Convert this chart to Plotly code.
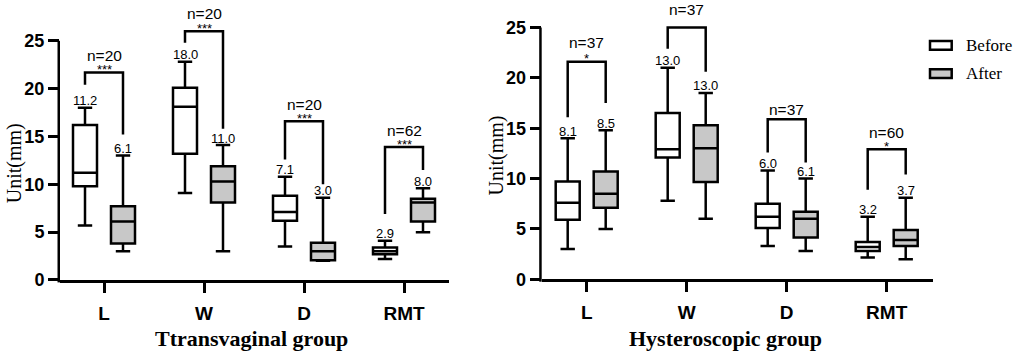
import plotly.graph_objects as go

# ---------------- data ----------------
categories = ["L", "W", "D", "RMT"]
y_ticks = [0, 5, 10, 15, 20, 25]
series_names = ["Before", "After"]

# Ttransvaginal group
tv_before_low = [5.7, 9.1, 3.5, 2.2]
tv_before_q1 = [9.8, 13.2, 6.2, 2.7]
tv_before_med = [11.2, 18.1, 7.1, 3.0]
tv_before_q3 = [16.2, 20.1, 8.8, 3.4]
tv_before_high = [18.0, 22.8, 10.8, 4.1]
tv_after_low = [3.0, 3.0, 2.0, 5.0]
tv_after_q1 = [3.8, 8.1, 2.05, 6.1]
tv_after_med = [6.1, 10.3, 3.0, 8.1]
tv_after_q3 = [7.7, 11.9, 3.9, 8.5]
tv_after_high = [13.0, 14.1, 8.6, 9.6]
tv_label_before = [11.2, 18.0, 7.1, 2.9]
tv_label_after = [6.1, 11.0, 3.0, 8.0]
tv_n = [20, 20, 20, 62]
tv_stars = ["***", "***", "***", "***"]
tv_bracket_top = [21.7, 26.0, 16.6, 13.9]
tv_bracket_left = [20.4, 24.8, 12.6, 6.9]
tv_bracket_right = [15.2, 15.8, 10.0, 11.5]

# Hysteroscopic group
hy_before_low = [3.0, 7.8, 3.3, 2.15]
hy_before_q1 = [5.9, 12.1, 5.1, 2.8]
hy_before_med = [7.6, 12.9, 6.2, 3.2]
hy_before_q3 = [9.7, 16.5, 7.5, 3.7]
hy_before_high = [14.0, 21.0, 10.8, 6.2]
hy_after_low = [5.0, 6.0, 2.8, 2.0]
hy_after_q1 = [7.1, 9.65, 4.15, 3.3]
hy_after_med = [8.5, 13.0, 6.0, 3.9]
hy_after_q3 = [10.7, 15.3, 6.7, 4.9]
hy_after_high = [14.8, 18.5, 10.0, 8.1]
hy_label_before = [8.1, 13.0, 6.0, 3.2]
hy_label_after = [8.5, 13.0, 6.1, 3.7]
hy_n = [37, 37, 37, 60]
hy_stars = ["*", "", "", "*"]
hy_bracket_top = [21.6, 25.0, 15.9, 12.9]
hy_bracket_left = [16.1, 22.9, 12.6, 8.9]
hy_bracket_right = [17.5, 20.6, 11.6, 10.4]

# ---------------- style / layout ----------------
W, H = 1013, 358
SANS = "Liberation Sans, Arial, sans-serif"
SERIF = "Liberation Serif, Times New Roman, serif"
FILLS = ["#ffffff", "#c8c8c8"]
LW = 2.5
OFF = 0.19
BOXW = 0.24

panels = [
    dict(ax="", title="Ttransvaginal group", title_px=251, ytitle_px=14, ytitle_py=168,
         px_x0=60, px_x1=449, px_zero=288, ppu=9.84, xr=[-0.44, 3.45], ymax=28,
         before=(tv_before_low, tv_before_q1, tv_before_med, tv_before_q3, tv_before_high),
         after=(tv_after_low, tv_after_q1, tv_after_med, tv_after_q3, tv_after_high),
         lab_b=tv_label_before, lab_a=tv_label_after, n=tv_n, stars=tv_stars,
         top=tv_bracket_top, left=tv_bracket_left, right=tv_bracket_right,
         ngap=[17, 18, 17, 17]),
    dict(ax="2", title="Hysteroscopic group", title_px=725, ytitle_px=497, ytitle_py=160,
         px_x0=541.7, px_x1=932.7, px_zero=287.3, ppu=10.36, xr=[-0.45, 3.46], ymax=27,
         before=(hy_before_low, hy_before_q1, hy_before_med, hy_before_q3, hy_before_high),
         after=(hy_after_low, hy_after_q1, hy_after_med, hy_after_q3, hy_after_high),
         lab_b=hy_label_before, lab_a=hy_label_after, n=hy_n, stars=hy_stars,
         top=hy_bracket_top, left=hy_bracket_left, right=hy_bracket_right,
         ngap=[19, 18, 10, 17]),
]

fig = go.Figure()
shapes, annotations = [], []
layout_axes = {}

for p in panels:
    xa, ya = "x" + p["ax"], "y" + p["ax"]
    xdom = [p["px_x0"] / W, p["px_x1"] / W]
    ydom = [(H - p["px_zero"]) / H, (H - (p["px_zero"] - p["ymax"] * p["ppu"])) / H]
    for k, (stats, fill, sign) in enumerate([(p["before"], FILLS[0], -1), (p["after"], FILLS[1], 1)]):
        low, q1, med, q3, high = stats
        fig.add_trace(go.Box(
            x=[i + sign * OFF for i in range(len(categories))],
            lowerfence=low, q1=q1, median=med, q3=q3, upperfence=high,
            width=BOXW, whiskerwidth=0.6, fillcolor=fill,
            line=dict(color="black", width=LW), boxpoints=False,
            name=series_names[k], showlegend=False, xaxis=xa, yaxis=ya,
        ))
        labels = p["lab_b"] if sign < 0 else p["lab_a"]
        for i, v in enumerate(labels):
            annotations.append(dict(x=i + sign * OFF, y=high[i], xref=xa, yref=ya,
                                    text=f"{v:.1f}", showarrow=False, yanchor="middle",
                                    yshift=7, font=dict(family=SANS, size=13, color="black")))
    for i in range(len(categories)):
        xl, xr_ = i - OFF, i + OFF
        shapes.append(dict(type="path", xref=xa, yref=ya,
                           path=f"M {xl},{p['left'][i]} L {xl},{p['top'][i]} L {xr_},{p['top'][i]} L {xr_},{p['right'][i]}",
                           line=dict(color="black", width=LW)))
        if p["stars"][i]:
            annotations.append(dict(x=i, y=p["top"][i], xref=xa, yref=ya, text=p["stars"][i],
                                    showarrow=False, yanchor="middle", yshift=3,
                                    font=dict(family=SANS, size=13, color="black")))
        annotations.append(dict(x=i, y=p["top"][i], xref=xa, yref=ya, text=f"n={p['n'][i]}",
                                showarrow=False, yanchor="middle", yshift=p["ngap"][i],
                                font=dict(family=SANS, size=15.5, color="black")))
    # y axis line only up to the top tick
    yline_top = ydom[0] + (max(y_ticks) / p["ymax"]) * (ydom[1] - ydom[0])
    xl_paper = xdom[0] - (LW / 2) / W
    shapes.append(dict(type="line", xref="paper", yref="paper", x0=xl_paper, x1=xl_paper,
                       y0=ydom[0] - LW / H, y1=yline_top, line=dict(color="black", width=LW)))
    layout_axes["xaxis" + p["ax"]] = dict(
        domain=xdom, range=p["xr"], anchor=ya, tickvals=list(range(len(categories))),
        ticktext=categories, showline=True, linecolor="black", linewidth=LW,
        ticks="outside", ticklen=10, tickwidth=LW, tickcolor="black", ticklabelstandoff=4,
        tickfont=dict(family=SANS, size=19, color="black", weight="bold"),
        showgrid=False, zeroline=False, fixedrange=True)
    layout_axes["yaxis" + p["ax"]] = dict(
        domain=ydom, range=[0, p["ymax"]], anchor=xa, tickvals=y_ticks,
        showline=False, ticks="outside", ticklen=11, tickwidth=LW, tickcolor="black",
        tickfont=dict(family=SANS, size=18, color="black", weight="bold"),
        showgrid=False, zeroline=False, fixedrange=True)
    annotations.append(dict(x=p["title_px"] / W, y=(H - 348) / H, xref="paper", yref="paper",
                            text=p["title"], showarrow=False, xanchor="center", yanchor="middle",
                            font=dict(family=SERIF, size=22, color="black", weight="bold")))
    annotations.append(dict(x=p["ytitle_px"] / W, y=(H - p["ytitle_py"]) / H, xref="paper", yref="paper",
                            text="Unit(mm)", textangle=-90, showarrow=False,
                            xanchor="center", yanchor="middle",
                            font=dict(family=SERIF, size=20, color="black")))

# legend (manual)
for k, name in enumerate(series_names):
    cy = [46.7, 75.7][k]
    shapes.append(dict(type="rect", xref="paper", yref="paper",
                       x0=930 / W, x1=951.7 / W, y0=(H - cy - 4.5) / H, y1=(H - cy + 4.5) / H,
                       fillcolor=FILLS[k], line=dict(color="black", width=LW)))
    annotations.append(dict(x=964 / W, y=(H - cy) / H, xref="paper", yref="paper", text=name,
                            showarrow=False, xanchor="left", yanchor="middle",
                            font=dict(family=SERIF, size=17, color="black")))

fig.update_layout(
    width=W, height=H, margin=dict(l=0, r=0, t=0, b=0),
    paper_bgcolor="white", plot_bgcolor="rgba(0,0,0,0)",
    boxmode="overlay", showlegend=False,
    shapes=shapes, annotations=annotations, **layout_axes,
)
fig.write_html(
    "out.html",
    config={"displayModeBar": False},
    post_script="document.body.style.margin='0';document.body.style.overflow='hidden';",
)
